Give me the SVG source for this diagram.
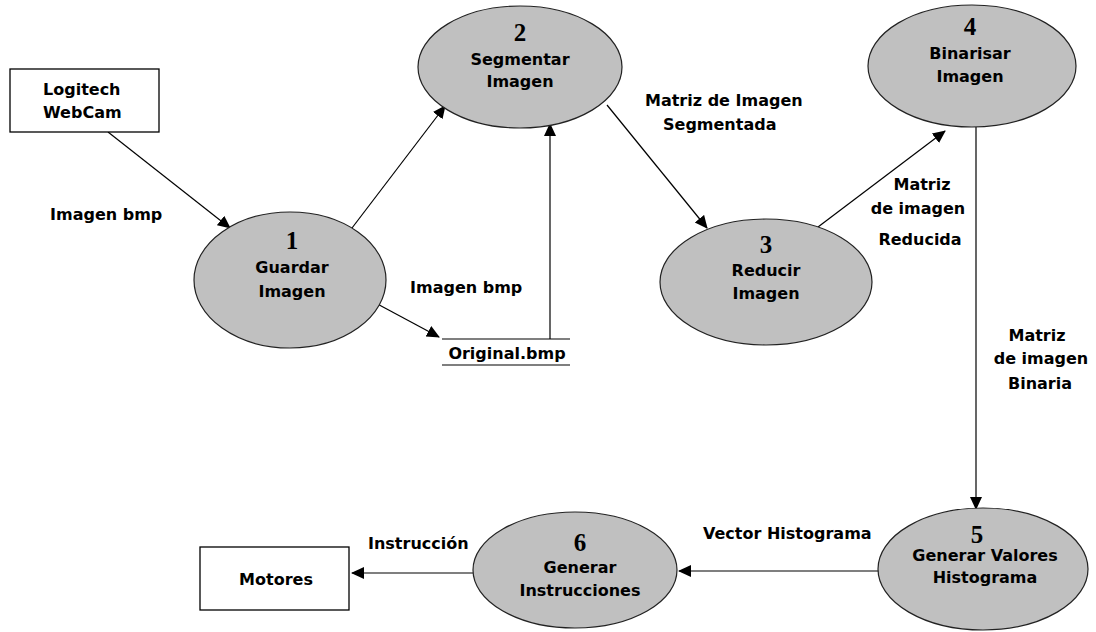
<svg xmlns="http://www.w3.org/2000/svg" width="1096" height="632" viewBox="0 0 1096 632">
<defs>
<marker id="ah" markerWidth="14" markerHeight="14" refX="12" refY="7" orient="auto" markerUnits="userSpaceOnUse">
<path d="M0,1 L13,7 L0,13 Z" fill="#000"/>
</marker>
<style>
.proc{fill:#c0c0c0;stroke:#222;stroke-width:1.2}
.ent{fill:#fff;stroke:#000;stroke-width:1.3}
.t{font-family:"DejaVu Sans","Liberation Sans",sans-serif;font-weight:bold;font-size:16px;fill:#000}
.n{font-family:"Liberation Serif","Times New Roman",serif;font-weight:bold;font-size:25px;fill:#000}
.c{text-anchor:middle}
.ln{stroke:#000;stroke-width:1.2;fill:none}
</style>
</defs>
<rect width="1096" height="632" fill="#fff"/>

<g id="connectors">
<line class="ln" x1="108" y1="132" x2="230" y2="228" marker-end="url(#ah)"/>
<line class="ln" x1="352" y1="228" x2="445" y2="106" marker-end="url(#ah)"/>
<line class="ln" x1="370" y1="300" x2="439" y2="337" marker-end="url(#ah)"/>
<line class="ln" x1="550" y1="339" x2="550" y2="124" marker-end="url(#ah)"/>
<line class="ln" x1="607" y1="105" x2="707" y2="228" marker-end="url(#ah)"/>
<line class="ln" x1="818" y1="227" x2="945" y2="131" marker-end="url(#ah)"/>
<line class="ln" x1="976" y1="127" x2="976" y2="509" marker-end="url(#ah)"/>
<line class="ln" x1="879" y1="571" x2="679" y2="571" marker-end="url(#ah)"/>
<line class="ln" x1="473" y1="573" x2="352" y2="573" marker-end="url(#ah)"/>
<text class="t" x="50" y="220">Imagen bmp</text>
<text class="t" x="410" y="293">Imagen bmp</text>
<text class="t" x="645" y="106">Matriz de Imagen</text>
<text class="t" x="663" y="130">Segmentada</text>
<text class="t c" x="922" y="190">Matriz</text>
<text class="t c" x="918" y="214">de imagen</text>
<text class="t c" x="920" y="245">Reducida</text>
<text class="t c" x="1037" y="341">Matriz</text>
<text class="t c" x="1041" y="364">de imagen</text>
<text class="t c" x="1040" y="389">Binaria</text>
<text class="t" x="703" y="539">Vector Histograma</text>
<text class="t" x="368" y="549">Instrucción</text>
</g>

<g id="webcam">
<rect class="ent" x="10" y="69" width="149" height="63"/>
<text class="t" x="43" y="95">Logitech</text>
<text class="t" x="43" y="118">WebCam</text>
</g>

<g id="motores">
<rect class="ent" x="200" y="547" width="149" height="63"/>
<text class="t c" x="276" y="585">Motores</text>
</g>

<g id="store">
<line class="ln" x1="442" y1="339" x2="570" y2="339"/>
<line class="ln" x1="442" y1="365" x2="570" y2="365"/>
<text class="t c" x="507" y="359">Original.bmp</text>
</g>

<g id="p1">
<ellipse class="proc" cx="290" cy="280" rx="96" ry="68"/>
<text class="n c" x="292" y="249">1</text>
<text class="t c" x="292" y="273">Guardar</text>
<text class="t c" x="292" y="297">Imagen</text>
</g>

<g id="p2">
<ellipse class="proc" cx="520" cy="67" rx="102" ry="61"/>
<text class="n c" x="520" y="41">2</text>
<text class="t c" x="520" y="65">Segmentar</text>
<text class="t c" x="520" y="87">Imagen</text>
</g>

<g id="p3">
<ellipse class="proc" cx="766" cy="282" rx="106" ry="63"/>
<text class="n c" x="766" y="253">3</text>
<text class="t c" x="766" y="276">Reducir</text>
<text class="t c" x="766" y="299">Imagen</text>
</g>

<g id="p4">
<ellipse class="proc" cx="972" cy="66" rx="104" ry="61"/>
<text class="n c" x="970" y="35">4</text>
<text class="t c" x="970" y="59">Binarisar</text>
<text class="t c" x="970" y="82">Imagen</text>
</g>

<g id="p5">
<ellipse class="proc" cx="983" cy="569" rx="105" ry="61"/>
<text class="n c" x="977" y="543">5</text>
<text class="t c" x="985" y="561">Generar Valores</text>
<text class="t c" x="985" y="583">Histograma</text>
</g>

<g id="p6">
<ellipse class="proc" cx="575" cy="570" rx="102" ry="58"/>
<text class="n c" x="580" y="551">6</text>
<text class="t c" x="580" y="573">Generar</text>
<text class="t c" x="580" y="596">Instrucciones</text>
</g>
</svg>
